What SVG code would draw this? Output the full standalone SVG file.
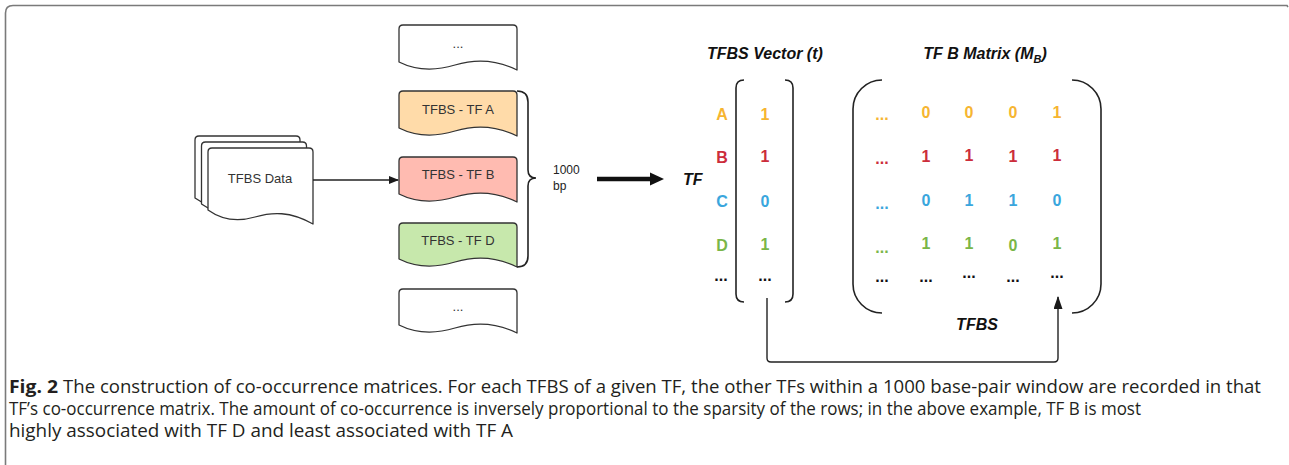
<svg xmlns="http://www.w3.org/2000/svg" width="1289" height="465" viewBox="0 0 1289 465">
  <defs>
    <marker id="arrow" markerWidth="10" markerHeight="10" refX="9" refY="4" orient="auto" markerUnits="userSpaceOnUse">
      <path d="M0,0 L10,4 L0,8 Z" fill="#1a1a1a"/>
    </marker>
    <marker id="arrowUp" markerWidth="13" markerHeight="10" refX="12" refY="4.5" orient="auto" markerUnits="userSpaceOnUse">
      <path d="M0,0 L13,4.5 L0,9 Z" fill="#1a1a1a"/>
    </marker>
    <style>
      .doc { stroke: #333; stroke-width: 1.3; stroke-linejoin: round; }
      .lbl { font-family: "Liberation Sans", Arial, sans-serif; font-size: 13px; fill: #333; text-anchor: middle; }
      .head { font-family: "Liberation Sans", Arial, sans-serif; font-size: 16px; font-weight: bold; font-style: italic; fill: #111; }
      .cell { font-family: "Liberation Sans", Arial, sans-serif; font-size: 16px; font-weight: bold; text-anchor: middle; }
      .bracket { fill: none; stroke: #222; stroke-width: 1.6; }
      .conn { fill: none; stroke: #222; stroke-width: 1.4; }
      .ya { fill: #F6B531; }
      .rb { fill: #CC2D3B; }
      .bc { fill: #3AA6DD; }
      .gd { fill: #7AB648; }
      .k { fill: #111; }
      .cap { font-family: "Open Sans", "Noto Sans", sans-serif; font-size: 17.5px; fill: #231F20; }
    </style>
  </defs>

  <!-- outer frame -->
  <path d="M5.5,465 L5.5,13 Q5.5,5.5 13,5.5 L1287,5.5 L1288,7" fill="none" stroke="#7a7a7a" stroke-width="1.6"/>

  <!-- stacked data documents -->
  <g id="tfbs-data">
    <path class="doc" fill="#fff" d="M195,198 L195,140 Q195,136 199,136 L296,136 Q300,136 300,140 L300,212 c-23,-13 -41,-12 -58,-7 c-17,5 -33,3 -47,-7 Z"/>
    <path class="doc" fill="#fff" d="M201.5,204 L201.5,146 Q201.5,142 205.5,142 L302.5,142 Q306.5,142 306.5,146 L306.5,218 c-23,-13 -41,-12 -58,-7 c-17,5 -33,3 -47,-7 Z"/>
    <path class="doc" fill="#fff" d="M208,210 L208,152 Q208,148 212,148 L309,148 Q313,148 313,152 L313,224 c-23,-13 -41,-12 -58,-7 c-17,5 -33,3 -47,-7 Z"/>
    <text class="lbl" x="260" y="183">TFBS Data</text>
  </g>

  <!-- window documents -->
  <g id="doc-top">
    <path class="doc" fill="#fff" d="M399,62 L399,29 Q399,25 403,25 L513,25 Q517,25 517,29 L517,70 c-22,-11 -42,-11 -62,-5 c-20,6 -40,5 -56,-3 Z"/>
    <text class="lbl" x="458" y="48">...</text>
  </g>
  <g id="doc-tf-a">
    <path class="doc" fill="#FFDBA9" d="M399,128 L399,95 Q399,91 403,91 L513,91 Q517,91 517,95 L517,136 c-22,-11 -42,-11 -62,-5 c-20,6 -40,5 -56,-3 Z"/>
    <text class="lbl" x="458" y="114">TFBS - TF A</text>
  </g>
  <g id="doc-tf-b">
    <path class="doc" fill="#FFBBB1" d="M399,194 L399,161 Q399,157 403,157 L513,157 Q517,157 517,161 L517,202 c-22,-11 -42,-11 -62,-5 c-20,6 -40,5 -56,-3 Z"/>
    <text class="lbl" x="458" y="179">TFBS - TF B</text>
  </g>
  <g id="doc-tf-d">
    <path class="doc" fill="#C7E8AC" d="M399,259 L399,227 Q399,223 403,223 L513,223 Q517,223 517,227 L517,267 c-22,-11 -42,-11 -62,-5 c-20,6 -40,5 -56,-3 Z"/>
    <text class="lbl" x="458" y="245">TFBS - TF D</text>
  </g>
  <g id="doc-bottom">
    <path class="doc" fill="#fff" d="M399,325 L399,293 Q399,289 403,289 L513,289 Q517,289 517,293 L517,333 c-22,-11 -42,-11 -62,-5 c-20,6 -40,5 -56,-3 Z"/>
    <text class="lbl" x="458" y="311">...</text>
  </g>

  <!-- window brace and label -->
  <g id="window">
    <path class="bracket" stroke-width="1.4" d="M517,91 Q528,91 528,102 L528,170 Q528,178 536,178 Q528,178 528,186 L528,256 Q528,267 517,267"/>
    <text font-family="Liberation Sans, Arial, sans-serif" font-size="12" fill="#222" x="553" y="174">1000</text>
    <text font-family="Liberation Sans, Arial, sans-serif" font-size="12" fill="#222" x="553" y="190">bp</text>
  </g>

  <!-- TFBS vector -->
  <g id="tfbs-vector">
    <text class="head" x="707" y="59">TFBS Vector (t)</text>
    <text class="head" x="683" y="185">TF</text>
    <path class="bracket" d="M744,80 Q736,80 736,88 L736,294 Q736,302 744,302"/>
    <path class="bracket" d="M785,80 Q793,80 793,88 L793,294 Q793,302 785,302"/>
    <text class="cell ya" x="722" y="120">A</text>
    <text class="cell rb" x="722" y="163">B</text>
    <text class="cell bc" x="722" y="207">C</text>
    <text class="cell gd" x="722" y="251">D</text>
    <text class="cell k" x="721" y="281">...</text>
    <text class="cell ya" x="765" y="120">1</text>
    <text class="cell rb" x="765" y="162">1</text>
    <text class="cell bc" x="765" y="207">0</text>
    <text class="cell gd" x="765" y="250">1</text>
    <text class="cell k" x="765" y="281">...</text>
  </g>

  <!-- TF B co-occurrence matrix -->
  <g id="tf-b-matrix">
    <text class="head" x="985" y="59" text-anchor="middle">TF B Matrix (M<tspan font-size="11" dy="4">B</tspan><tspan dy="-4">)</tspan></text>
    <path class="bracket" d="M882,80 A29,29 0 0 0 853,109 L853,284 A29,29 0 0 0 882,313"/>
    <path class="bracket" d="M1072,80 A29,29 0 0 1 1101,109 L1101,284 A29,29 0 0 1 1072,313"/>
    <text class="cell ya" x="882" y="120">...</text>
    <text class="cell ya" x="926" y="118">0</text>
    <text class="cell ya" x="969" y="118">0</text>
    <text class="cell ya" x="1013" y="118">0</text>
    <text class="cell ya" x="1057" y="118">1</text>
    <text class="cell rb" x="882" y="164">...</text>
    <text class="cell rb" x="926" y="162">1</text>
    <text class="cell rb" x="969" y="161">1</text>
    <text class="cell rb" x="1013" y="162">1</text>
    <text class="cell rb" x="1057" y="161">1</text>
    <text class="cell bc" x="882" y="209">...</text>
    <text class="cell bc" x="926" y="206">0</text>
    <text class="cell bc" x="969" y="206">1</text>
    <text class="cell bc" x="1013" y="206">1</text>
    <text class="cell bc" x="1057" y="206">0</text>
    <text class="cell gd" x="882" y="253">...</text>
    <text class="cell gd" x="926" y="249">1</text>
    <text class="cell gd" x="969" y="249">1</text>
    <text class="cell gd" x="1013" y="251">0</text>
    <text class="cell gd" x="1057" y="249">1</text>
    <text class="cell k" x="882" y="282">...</text>
    <text class="cell k" x="926" y="282">...</text>
    <text class="cell k" x="969" y="278">...</text>
    <text class="cell k" x="1013" y="282">...</text>
    <text class="cell k" x="1057" y="278">...</text>
    <text class="head" x="977" y="330" text-anchor="middle">TFBS</text>
  </g>

  <!-- connectors -->
  <g id="connectors">
    <line class="conn" x1="313" y1="180" x2="398" y2="180" marker-end="url(#arrow)"/>
    <line x1="597" y1="179" x2="652" y2="179" stroke="#111" stroke-width="4.5"/>
    <path d="M650,172.5 L664,179 L650,185.5 Z" fill="#111"/>
    <path class="conn" d="M767,298 L767,358 Q767,362 771,362 L1054,362 Q1058,362 1058,358 L1058,297" marker-end="url(#arrowUp)"/>
  </g>

  <!-- caption -->
  <g id="caption">
    <text class="cap" x="9" y="393" font-weight="bold" textLength="49" lengthAdjust="spacingAndGlyphs">Fig. 2</text>
    <text class="cap" x="63" y="393" textLength="1198" lengthAdjust="spacingAndGlyphs">The construction of co-occurrence matrices. For each TFBS of a given TF, the other TFs within a 1000 base-pair window are recorded in that</text>
    <text class="cap" x="9" y="415" textLength="1132" lengthAdjust="spacingAndGlyphs">TF’s co-occurrence matrix. The amount of co-occurrence is inversely proportional to the sparsity of the rows; in the above example, TF B is most</text>
    <text class="cap" x="9" y="437" textLength="504" lengthAdjust="spacingAndGlyphs">highly associated with TF D and least associated with TF A</text>
  </g>
</svg>
